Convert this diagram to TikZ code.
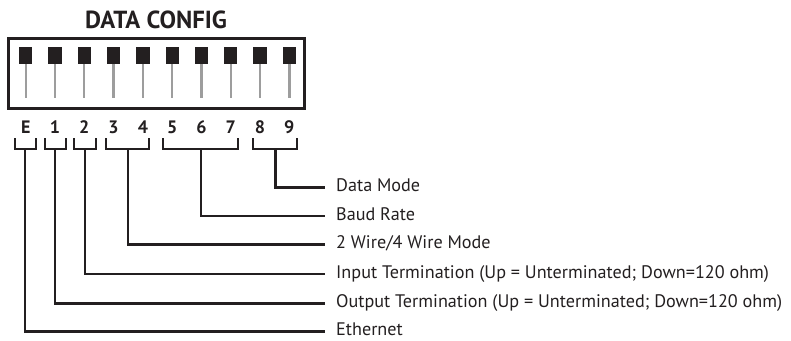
\documentclass[tikz,border=0pt]{standalone}
\usepackage{fontspec}
\setmainfont{PT Sans}
\definecolor{ink}{HTML}{231F20}
\definecolor{stemgray}{HTML}{9D9D9D}
\newlength\mywd
\begin{document}
\settowidth\mywd{\fontsize{10pt}{12pt}\selectfont Output Termination (Up = Unterminated; Down=120 ohm)}%
\pgfmathsetmacro\lblsz{10*446/\mywd}%
\settowidth\mywd{\fontsize{10pt}{12pt}\selectfont\bfseries DATA CONFIG}%
\pgfmathsetmacro\ttlsz{10*142/\mywd}%
\begin{tikzpicture}[x=1pt,y=-1pt,
  knob/.style={fill=ink,minimum width=13.3pt,minimum height=16.7pt,inner sep=0pt},
  stemline/.style={draw=stemgray,line width=2.4pt},
  swbox/.style={draw=ink,line width=2.7pt,minimum width=296pt,minimum height=70pt,inner sep=0pt},
  digit/.style={anchor=base,inner sep=0pt,text=ink,font=\fontsize{18pt}{20pt}\selectfont\bfseries},
  ttl/.style={anchor=base,inner sep=0pt,text=ink,font=\fontsize{\ttlsz pt}{24pt}\selectfont\bfseries},
  lbl/.style={inner sep=0pt,text=ink,font=\fontsize{\lblsz pt}{20pt}\selectfont},
  brk/.style={draw=ink,line width=2.2pt}]
\useasboundingbox (0,0) rectangle (791,340);
\node[ttl] (title) at (156,28.3) {DATA CONFIG};
\node[swbox] (box) at (156.7,73.7) {};
\foreach \i/\t in {0/E,1/1,2/2,3/3,4/4,5/5,6/6,7/7,8/8,9/9}{
  \pgfmathsetmacro\xx{25.7+29.29*\i}
  \coordinate (s\i) at (\xx,98.3);
  \node[knob] (k\i) at (\xx,55.65) {};
  \draw[stemline] (k\i.south) -- (s\i);
  \node[digit] (d\i) at (\xx,133.3) {\t};
}
\foreach \n/\xa/\xb/\xc/\yy/\txt in {
  dm/252.7/296.7/275.5/187.5/{Data Mode},
  br/163/238.3/200.8/216.3/{Baud Rate},
  wm/106/149/127.6/244.5/{2 Wire/4 Wire Mode},
  it/74/96/84.8/274.3/{Input Termination (Up = Unterminated; Down=120 ohm)},
  ot/45/66/55.2/303.5/{Output Termination (Up = Unterminated; Down=120 ohm)},
  et/15/36/25.2/331.5/{Ethernet}}{
  \coordinate (\n a) at (\xa,138.3);
  \coordinate (\n b) at (\xb,138.3);
  \coordinate (\n c) at (\xc,149);
  \coordinate (\n e) at (325,\yy);
  \draw[brk] (\n a) |- (\n c) -| (\n b);
  \draw[brk] (\n c) |- (\n e);
  \node[lbl,anchor=base west] (\n l) at ([xshift=11pt,yshift=-4.3pt]\n e) {\txt};
}
\end{tikzpicture}
\end{document}
